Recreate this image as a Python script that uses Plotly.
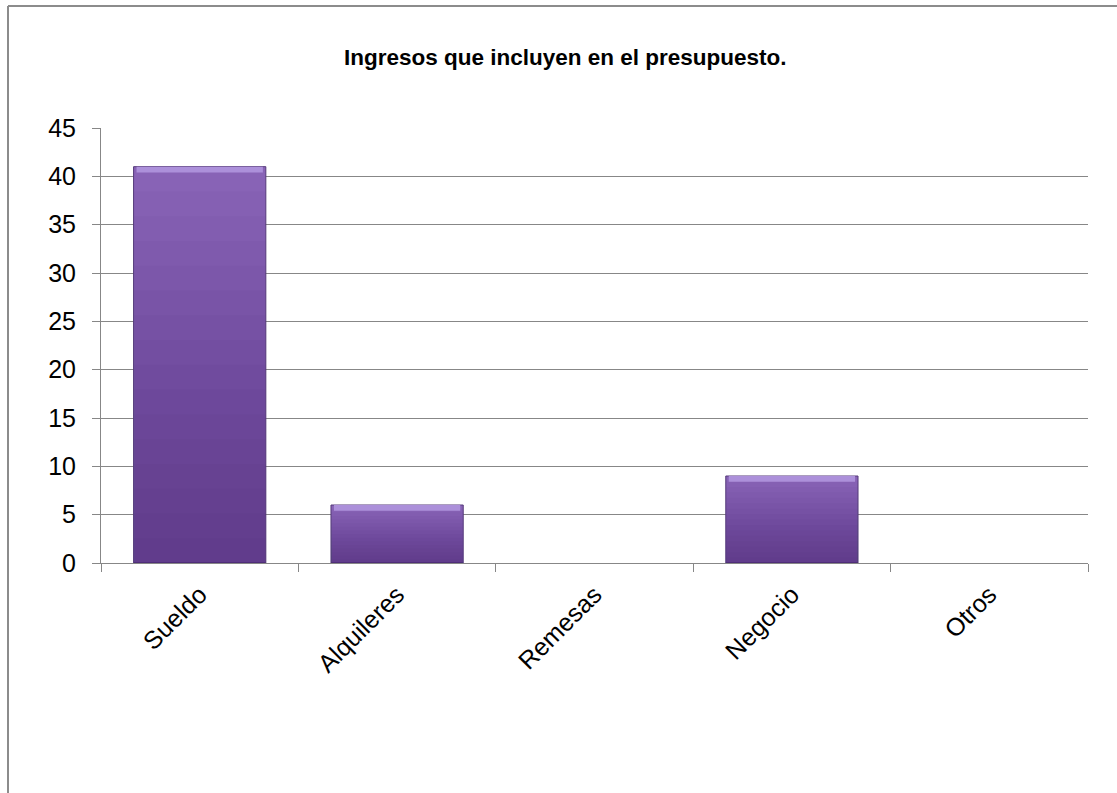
import plotly.graph_objects as go

categories = ["Sueldo", "Alquileres", "Remesas", "Negocio", "Otros"]
values = [41, 6, 0, 9, 0]
y_ticks = [0, 5, 10, 15, 20, 25, 30, 35, 40, 45]

title = "Ingresos que incluyen en el presupuesto."
font_family = "Liberation Sans, Arial, sans-serif"
grid_color = "#878787"
bar_w = 0.67

fig = go.Figure()
# main bar body (lighter top colour)
fig.add_trace(go.Bar(
    x=categories, y=values,
    marker=dict(color="#8863b6",
                line=dict(color="#553a7a", width=[1 if v > 0 else 0 for v in values])),
    width=bar_w, hoverinfo="x+y",
))
# shading layers to darken towards the bottom (vertical gradient look)
n_steps = 16
for k in range(1, n_steps):
    fig.add_trace(go.Bar(
        x=categories, y=[v * k / n_steps for v in values],
        marker=dict(color="rgba(25,8,55,0.027)", line=dict(width=0)),
        width=bar_w - 0.006, hoverinfo="skip",
    ))
# top bevel highlight
bevel = [0.6 if v > 0 else 0 for v in values]
fig.add_trace(go.Bar(
    x=categories, y=bevel, base=[v - b for v, b in zip(values, bevel)],
    marker=dict(color="#ac90da", line=dict(width=0)),
    width=bar_w - 0.03, hoverinfo="skip",
))

fig.update_layout(
    width=1117, height=793,
    margin=dict(l=101, r=29, t=128, b=230),
    paper_bgcolor="white", plot_bgcolor="white",
    barmode="overlay", showlegend=False,
    font=dict(family=font_family, size=25, color="#000000"),
    title=dict(text="<b>" + title + "</b>", x=0.506, xanchor="center",
               y=1 - 57 / 793, yanchor="middle",
               font=dict(family=font_family, size=22.5, color="#000000")),
    xaxis=dict(
        type="category", tickangle=-45, tickson="boundaries",
        ticks="outside", ticklen=8, tickcolor=grid_color,
        showline=True, linecolor=grid_color, linewidth=1,
        showgrid=False, tickfont=dict(size=25), ticklabelstandoff=6,
    ),
    yaxis=dict(
        range=[0, 45], tickvals=y_ticks, ticks="outside", ticklen=8,
        tickcolor=grid_color, showline=True, linecolor=grid_color,
        linewidth=1, showgrid=True, gridcolor=grid_color, gridwidth=1,
        zeroline=False, tickfont=dict(size=25), ticklabelstandoff=11,
    ),
    shapes=[
        dict(type="line", xref="paper", yref="paper",
             x0=-93 / 987, x1=1.05, y0=1 + 122 / 435, y1=1 + 122 / 435,
             line=dict(color="#8c8c8c", width=2)),
        dict(type="line", xref="paper", yref="paper",
             x0=-93 / 987, x1=-93 / 987, y0=1 + 122 / 435, y1=-0.6,
             line=dict(color="#8c8c8c", width=2)),
    ],
)

fig.write_html("out.html")
